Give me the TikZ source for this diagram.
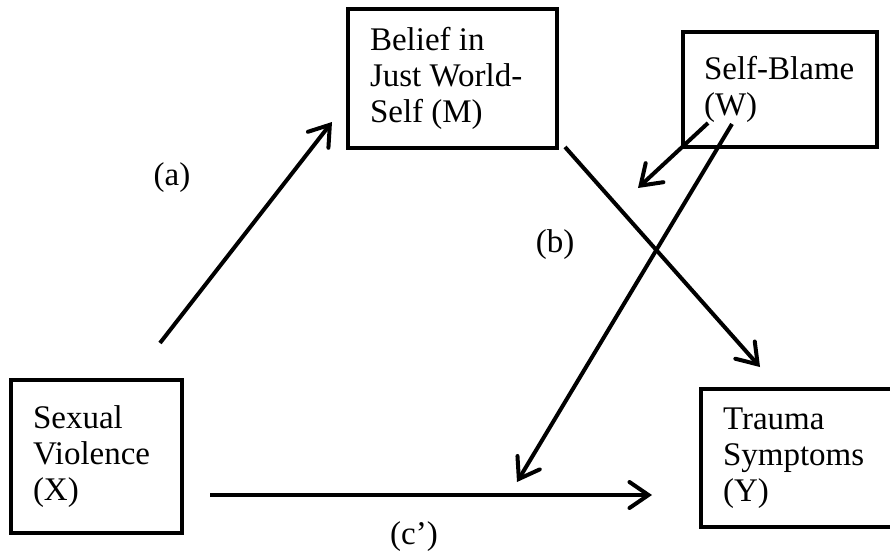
\documentclass[tikz,border=0pt]{standalone}
\usepackage{fontspec}
\setmainfont{Liberation Serif}
\usetikzlibrary{arrows.meta}

\begin{document}
\begin{tikzpicture}[x=1pt, y=-1pt,
    var/.style={draw, line width=4.5pt, align=flush left, inner xsep=22pt, inner ysep=0pt, font=\fontsize{33}{36}\selectfont},
    link/.style={line width=4pt, -{Straight Barb[length=19pt, width=26pt, line width=4pt, line cap=round]}},
    lbl/.style={font=\fontsize{33}{36}\selectfont, inner sep=0pt},
]
\useasboundingbox (0,0) rectangle (890,552);
\clip (0,0) rectangle (890,552);

% boxes
\node[var, text width=165pt, minimum height=139pt] (belief) at (452.5, 78.5) {Belief in\\Just World-\\Self (M)};
\node[var, text width=152pt, inner xsep=21pt, minimum height=115pt] (blame) at (780, 89.5) {\mbox{Self-Blame}\\(W)};
\node[var, text width=127pt, minimum height=153pt] (violence) at (96.5, 456.5) {Sexual\\Violence\\(X)};
\node[var, text width=155pt, minimum height=138pt] (trauma) at (800.5, 458) {Trauma\\Symptoms\\(Y)};

% arrow ends
\coordinate (a0) at (160, 343);
\coordinate (a1) at (332, 122);
\coordinate (b0) at (565, 147);
\coordinate (b1) at (760, 367);
\coordinate (w0) at (708, 123);
\coordinate (w1) at (638, 188);
\coordinate (v0) at (732, 124);
\coordinate (v1) at (517, 482);
\coordinate (c0) at (210, 495);
\coordinate (c1) at (652, 495);

\draw[link] (a0) -- (a1);
\draw[link] (b0) -- (b1);
\draw[link] (w0) -- (w1);
\draw[link] (v0) -- (v1);
\draw[link] (c0) -- (c1);

% path labels
\node[lbl] (labA) at (172, 178) {(a)};
\node[lbl] (labB) at (555, 245) {(b)};
\node[lbl] (labC) at (414, 537) {(c’)};
\end{tikzpicture}
\end{document}
